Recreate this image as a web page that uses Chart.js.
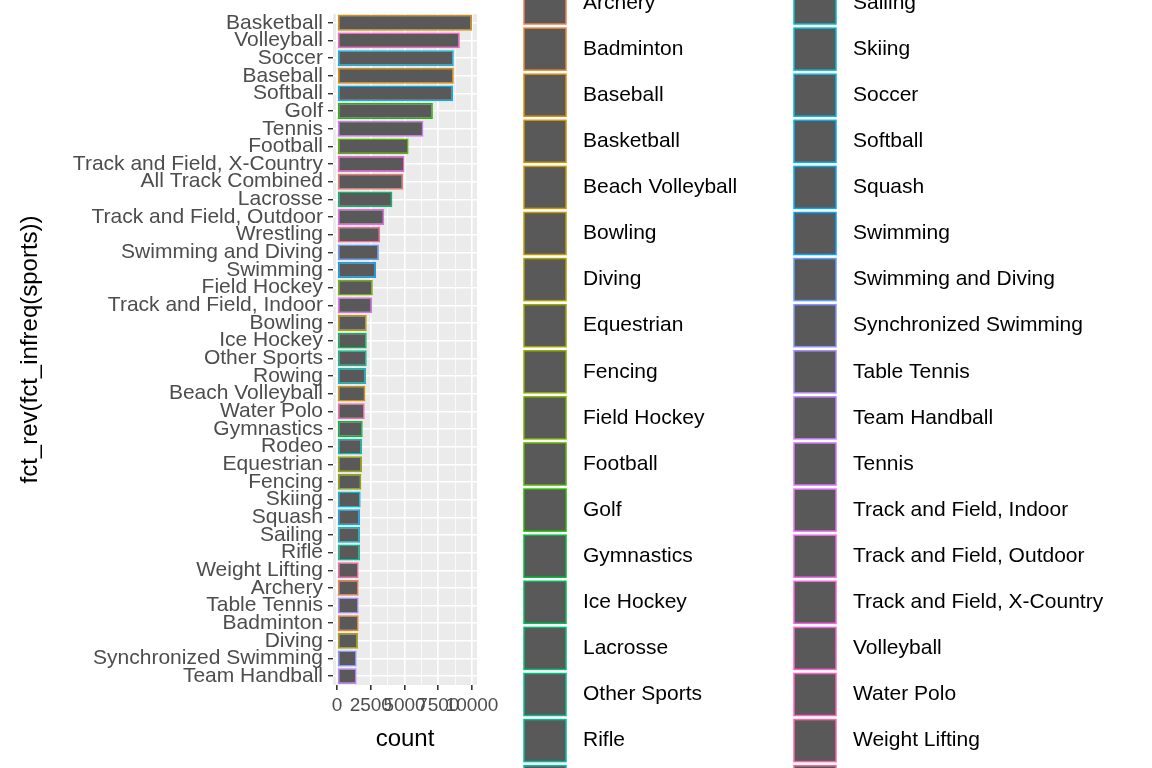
<!DOCTYPE html>
<html>
<head>
<meta charset="utf-8">
<script src="https://cdn.jsdelivr.net/npm/chart.js@4"></script>
<style>
  html, body { margin: 0; padding: 0; background: #fff; }
  #wrap { width: 1152px; height: 768px; }
</style>
</head>
<body>
<div id="wrap"><canvas id="chart" width="1152" height="768"></canvas></div>
<script>
// Sports, ordered by count (most frequent first)
const sports = ['Basketball', 'Volleyball', 'Soccer', 'Baseball', 'Softball', 'Golf', 'Tennis', 'Football',
  'Track and Field, X-Country', 'All Track Combined', 'Lacrosse', 'Track and Field, Outdoor', 'Wrestling',
  'Swimming and Diving', 'Swimming', 'Field Hockey', 'Track and Field, Indoor', 'Bowling', 'Ice Hockey',
  'Other Sports', 'Rowing', 'Beach Volleyball', 'Water Polo', 'Gymnastics', 'Rodeo', 'Equestrian', 'Fencing',
  'Skiing', 'Squash', 'Sailing', 'Rifle', 'Weight Lifting', 'Archery', 'Table Tennis', 'Badminton', 'Diving',
  'Synchronized Swimming', 'Team Handball'];
const counts = [10000, 9100, 8650, 8650, 8600, 7100, 6400, 5300, 5000, 4900, 4100, 3500, 3200, 3100, 2900,
  2650, 2600, 2200, 2200, 2200, 2150, 2100, 2050, 1900, 1850, 1850, 1800, 1750, 1700, 1700, 1700, 1600,
  1600, 1600, 1600, 1550, 1450, 1450];
const xTicks = [0, 2500, 5000, 7500, 10000];

const FONT = '"Liberation Sans", Arial, sans-serif';

// ggplot default hue palette over alphabetical levels
const levels = sports.slice().sort();
function hcl(h, c, l) {
  const rad = h * Math.PI / 180;
  const u = c * Math.cos(rad), v = c * Math.sin(rad);
  const Xn = 95.047, Yn = 100, Zn = 108.883;
  const un = 4 * Xn / (Xn + 15 * Yn + 3 * Zn), vn = 9 * Yn / (Xn + 15 * Yn + 3 * Zn);
  const Y = Yn * Math.pow((l + 16) / 116, 3);
  const up = u / (13 * l) + un, vp = v / (13 * l) + vn;
  const X = Y * 9 * up / (4 * vp), Z = Y * (12 - 3 * up - 20 * vp) / (4 * vp);
  const x = X / 100, y = Y / 100, z = Z / 100;
  let rgb = [3.2406 * x - 1.5372 * y - 0.4986 * z,
             -0.9689 * x + 1.8758 * y + 0.0415 * z,
             0.0557 * x - 0.2040 * y + 1.0570 * z];
  rgb = rgb.map(c => {
    c = c <= 0.0031308 ? 12.92 * c : 1.055 * Math.pow(c, 1 / 2.4) - 0.055;
    return Math.round(Math.min(1, Math.max(0, c)) * 255);
  });
  return `rgb(${rgb[0]},${rgb[1]},${rgb[2]})`;
}
const colourOf = {};
levels.forEach((s, i) => { colourOf[s] = hcl(15 + 360 * i / (levels.length + 1), 100, 65); });

// Legend drawn by hand, clipped like the original
const legendPlugin = {
  id: 'ggLegend',
  afterDraw(chart) {
    const ctx = chart.ctx;
    const half = Math.ceil(levels.length / 2);
    const step = 46.1;
    ctx.save();
    ctx.font = '21px ' + FONT;
    ctx.textBaseline = 'middle';
    levels.forEach((s, i) => {
      const col = i < half ? 0 : 1;
      const row = i < half ? i : i - half;
      const cy = 3 + step * (row - 1);
      const bx = col === 0 ? 523 : 793;
      ctx.fillStyle = '#595959';
      ctx.fillRect(bx + 1, cy - 21, 42, 42);
      ctx.strokeStyle = colourOf[s];
      ctx.lineWidth = 1.5;
      ctx.strokeRect(bx + 1, cy - 21, 42, 42);
      ctx.fillStyle = '#000';
      ctx.fillText(s, bx + 60, cy);
    });
    ctx.restore();
  }
};

const panelBg = {
  id: 'panelBg',
  beforeDraw(chart) {
    const a = chart.chartArea;
    chart.ctx.save();
    chart.ctx.fillStyle = '#EBEBEB';
    chart.ctx.fillRect(a.left, a.top, a.right - a.left, a.bottom - a.top);
    chart.ctx.restore();
  }
};

new Chart(document.getElementById('chart'), {
  type: 'bar',
  data: {
    labels: sports,
    datasets: [{
      data: counts,
      backgroundColor: '#595959',
      borderColor: sports.map(s => colourOf[s]),
      borderWidth: 1.5,
      borderSkipped: false,
      barPercentage: 0.9,
      categoryPercentage: 1
    }]
  },
  options: {
    indexAxis: 'y',
    responsive: false,
    animation: false,
    layout: { padding: { top: 10, right: 675, left: 0, bottom: 0 } },
    plugins: { legend: { display: false }, tooltip: { enabled: false } },
    scales: {
      x: {
        min: -300, max: 10370,
        afterFit(scale) { scale.height = 83; },
        afterBuildTicks(scale) {
          const t = [];
          for (let v = 0; v <= 10000; v += 1250) t.push({ value: v });
          scale.ticks = t;
        },
        border: { display: false },
        grid: {
          color: '#fff',
          lineWidth: ctx => (ctx.tick && xTicks.includes(ctx.tick.value)) ? 1.6 : 0.7,
          tickColor: ctx => (ctx.tick && xTicks.includes(ctx.tick.value)) ? '#333' : 'rgba(0,0,0,0)',
          tickLength: 5
        },
        ticks: {
          autoSkip: false, maxRotation: 0, padding: 4,
          color: '#4D4D4D',
          font: { size: 19, family: FONT },
          callback: v => xTicks.includes(v) ? String(v) : ''
        },
        title: { display: true, text: 'count', color: '#000', padding: { top: 0, bottom: 14 },
          font: { size: 24, family: FONT } }
      },
      y: {
        afterFit(scale) { scale.width = 333; },
        border: { display: false },
        grid: { color: '#fff', lineWidth: 1.4, offset: false, tickColor: '#333', tickLength: 5 },
        ticks: {
          autoSkip: false, padding: 5,
          color: '#4D4D4D',
          font: { size: 21, family: FONT, lineHeight: 0.85 }
        },
        title: { display: true, text: 'fct_rev(fct_infreq(sports))', color: '#000', padding: { top: 16, bottom: 8 },
          font: { size: 24, family: FONT } }
      }
    }
  },
  plugins: [panelBg, legendPlugin]
});
</script>
</body>
</html>
